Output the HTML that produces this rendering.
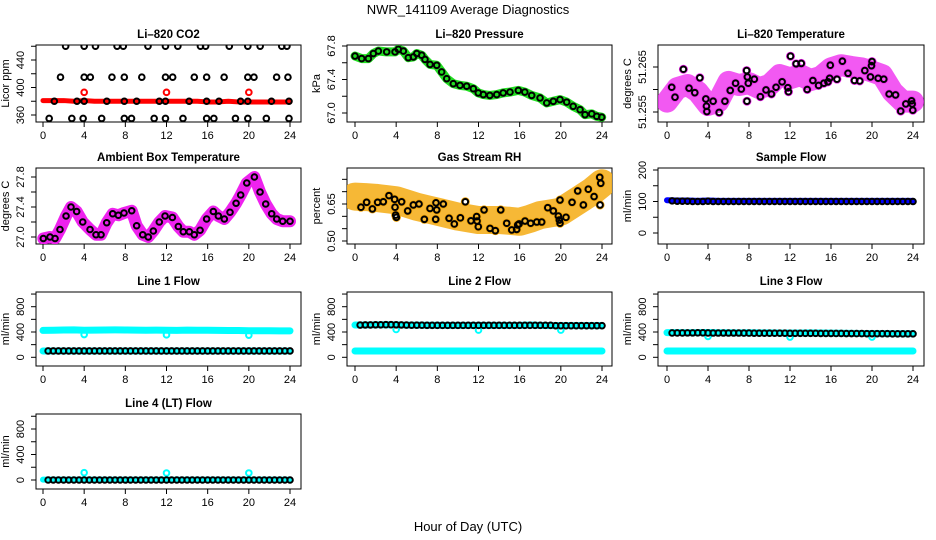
<!DOCTYPE html>
<html><head><meta charset="utf-8"><style>
body{margin:0;background:#fff;}
svg{display:block;font-family:"Liberation Sans",sans-serif;}
</style></head><body>
<svg id="chart" width="936" height="540" viewBox="0 0 936 540" xmlns="http://www.w3.org/2000/svg">
<text x="468" y="14" text-anchor="middle" font-size="13">NWR_141109  Average Diagnostics</text>
<text x="468" y="531" text-anchor="middle" font-size="13">Hour of Day (UTC)</text>
</svg>
<script>
// ---------- data ----------
const xTicks=[0,4,8,12,16,20,24];
const halfHours=[0,0.5,1,1.5,2,2.5,3,3.5,4,4.5,5,5.5,6,6.5,7,7.5,8,8.5,9,9.5,10,10.5,11,11.5,12,12.5,13,13.5,14,14.5,15,15.5,16,16.5,17,17.5,18,18.5,19,19.5,20,20.5,21,21.5,22,22.5,23,23.5,24];
const hours=[0,1,2,3,4,5,6,7,8,9,10,11,12,13,14,15,16,17,18,19,20,21,22,23,24];
// CO2
const co2Hi=[[2.2,460],[4.0,460],[5.1,460],[7.2,460],[7.8,460],[10.2,460],[11.9,460],[13.1,460],[15.3,460],[15.8,460],[18.1,460],[19.9,460],[21.1,460],[23.2,460],[23.7,460]];
const co2Mid=[[1.7,415],[4.0,415],[4.6,415],[6.7,415],[7.9,415],[9.6,415],[11.9,415],[12.6,415],[14.7,415],[15.9,415],[17.6,415],[19.9,415],[20.5,415],[22.7,415],[23.8,415]];
const co2Low=[[1.1,380],[3.3,380],[4.0,380],[6.2,380],[7.9,380],[9.1,380],[11.3,380],[11.9,380],[14.2,380],[15.9,380],[17.1,380],[19.2,380],[19.9,380],[22.2,380],[23.9,380]];
const co2Bot=[[0.6,355],[2.8,355],[3.9,355],[5.7,355],[7.9,355],[8.6,355],[10.8,355],[11.9,355],[13.6,355],[15.9,355],[16.6,355],[18.7,355],[19.9,355],[21.7,355],[23.9,355]];
const co2Red=[381,381,381,380,381,380,380,380,380,380,380,380,380,380,380,380,379,379,380,379,379,379,379,379,379];
const co2RedOut=[[4,393],[12,393],[20,393]];
// Pressure
const presH=[0.0,0.65,1.3,1.78,2.27,3.08,3.89,4.21,4.7,5.18,5.67,6.0,6.48,6.8,7.29,7.94,8.42,8.91,9.55,10.2,10.85,11.5,11.98,12.47,13.1,13.77,14.4,15.06,15.87,16.5,17.17,17.98,18.63,19.27,19.92,20.57,21.2,21.87,22.35,23.0,23.49,23.97];
const presV=[67.68,67.65,67.65,67.71,67.74,67.73,67.73,67.76,67.74,67.66,67.67,67.71,67.69,67.64,67.58,67.57,67.49,67.41,67.35,67.33,67.32,67.29,67.24,67.22,67.21,67.22,67.24,67.25,67.27,67.25,67.21,67.18,67.12,67.14,67.16,67.13,67.08,67.04,66.98,66.99,66.96,66.95];
// Li-820 temperature
const tempMean=[51.2573,51.2603,51.261,51.2595,51.2566,51.2573,51.2617,51.261,51.2614,51.2603,51.261,51.2632,51.2625,51.2632,51.2621,51.2628,51.2647,51.2654,51.265,51.2647,51.264,51.2632,51.2595,51.2573,51.2573];
const tempH=[0.46,0.78,1.6,2.15,2.71,3.2,3.79,3.85,3.89,4.5,5.09,5.65,6.17,6.69,7.25,7.77,7.84,7.8,7.93,8.52,9.11,9.66,10.19,10.64,11.23,11.79,11.85,12.05,12.6,13.1,13.68,14.23,14.79,15.31,15.7,15.87,15.93,16.58,17.11,17.66,18.29,18.8,19.3,19.85,19.95,20.0,20.6,21.15,21.67,22.3,22.8,23.3,23.86,23.92,23.98];
const tempV=[51.2605,51.2583,51.2645,51.2603,51.2593,51.2626,51.2579,51.2563,51.2551,51.2574,51.2549,51.2574,51.2598,51.2614,51.2601,51.2642,51.2628,51.2574,51.2614,51.2623,51.2584,51.2599,51.259,51.2605,51.2617,51.2604,51.2595,51.2674,51.2657,51.2658,51.26,51.262,51.2609,51.2614,51.2617,51.2625,51.2654,51.2623,51.2663,51.2636,51.262,51.2619,51.2642,51.2628,51.2653,51.2662,51.2625,51.2623,51.259,51.2588,51.2552,51.2568,51.2575,51.2568,51.2554];
// Ambient box temperature
const ambH=[0.03,0.68,1.17,1.65,2.24,2.72,3.27,3.86,4.57,5.15,5.64,6.19,6.77,7.32,7.87,8.62,9.1,9.69,10.23,10.72,11.3,11.86,12.57,13.15,13.63,14.22,14.7,15.26,15.9,16.55,17.04,17.62,18.17,18.76,19.21,19.8,20.54,21.09,21.64,22.22,22.71,23.29,24.0];
const ambV=[26.98,27.0,26.98,27.1,27.28,27.4,27.34,27.2,27.1,27.03,27.03,27.19,27.31,27.29,27.32,27.35,27.15,27.03,27.0,27.08,27.2,27.28,27.26,27.14,27.07,27.07,27.03,27.09,27.24,27.34,27.28,27.24,27.33,27.45,27.56,27.72,27.8,27.6,27.44,27.31,27.24,27.21,27.21];
// Gas stream RH
const rhMean=[0.68,0.678,0.675,0.67,0.665,0.652,0.639,0.629,0.619,0.609,0.599,0.592,0.585,0.585,0.585,0.582,0.578,0.59,0.605,0.612,0.619,0.646,0.673,0.7,0.734];
const rhH=[0.58,1.13,1.69,2.2,2.75,3.3,3.85,3.89,3.95,4.02,4.53,5.12,5.67,6.22,6.74,7.29,7.87,7.94,7.84,8.58,9.14,9.65,10.24,10.72,11.27,11.82,11.86,11.98,12.54,13.12,13.64,14.16,14.74,15.23,15.71,15.81,15.94,16.52,17.07,17.66,18.14,18.73,19.27,19.76,19.85,19.92,19.92,20.5,21.09,21.64,22.19,22.67,23.23,23.78,23.88,23.81];
const rhV=[0.637,0.657,0.63,0.657,0.659,0.684,0.669,0.637,0.605,0.596,0.659,0.622,0.646,0.65,0.588,0.632,0.655,0.626,0.588,0.65,0.592,0.569,0.594,0.659,0.582,0.599,0.581,0.558,0.626,0.551,0.542,0.626,0.572,0.545,0.547,0.565,0.569,0.581,0.572,0.577,0.577,0.635,0.622,0.601,0.585,0.666,0.572,0.596,0.657,0.703,0.646,0.71,0.68,0.758,0.734,0.646];
// Flows
const sampleBlue=[104,103,103,102,103,102,102,102,102,102,102,102,102,102,102,102,102,102,102,102,102,102,102,102,102];
const sampleBlack=[103,102,101,101,101,100,100,100,101,100,100,100,100,100,100,100,100,100,100,100,100,100,100,100,100,100,100,100,100,100,100,100,100,100,100,100,100,100,100,100,100,100,100,100,100,100,100,100,100];
const line1High=[425,428,432,434,428,430,432,433,432,430,428,429,427,426,430,428,427,425,424,423,420,420,419,418,418];
const line1Low=[100,100,100,100,100,100,100,100,100,100,100,100,100,100,100,100,100,100,100,100,100,100,100,100,100];
const line1Black=[100,100,100,100,100,100,100,100,100,100,100,100,100,100,100,100,100,100,100,100,100,100,100,100,100,100,100,100,100,100,100,100,100,100,100,100,100,100,100,100,100,100,100,100,100,100,100,100,100];
const line1Dips=[[4,360],[12,355],[20,350]];
const line2High=[510,510,512,515,512,508,508,506,506,505,505,505,505,505,505,505,505,510,505,500,500,500,500,500,500];
const line2Low=[100,100,100,100,100,100,100,100,100,100,100,100,100,100,100,100,100,100,100,100,100,100,100,100,100];
const line2Black=[510,510,512,512,514,514,515,515,514,512,510,508,508,507,506,506,505,505,505,505,505,505,505,505,505,505,505,505,505,505,505,505,505,505,505,505,505,505,505,500,500,500,500,500,500,500,500,500,500];
const line2Dips=[[4,440],[12,430],[20,430]];
const line3High=[390,390,388,390,392,388,388,386,388,386,386,385,384,384,386,384,382,380,378,376,376,374,374,372,372];
const line3Low=[100,100,100,100,100,100,100,100,100,100,100,100,100,100,100,100,100,100,100,100,100,100,100,100,100];
const line3Black=[385,385,385,385,386,386,387,387,385,384,384,384,384,384,384,383,383,382,382,382,382,381,381,381,380,380,380,379,379,379,378,378,378,377,377,376,376,375,375,374,374,374,373,373,372,372,372,371,371];
const line3Dips=[[4,330],[12,320],[20,320]];
const line4Cyan=[5,5,5,5,5,5,5,5,5,5,5,5,5,5,5,5,5,5,5,5,5,5,5,5,5];
const line4Black=[0,0,0,0,0,0,0,0,0,0,0,0,0,0,0,0,0,0,0,0,0,0,0,0,0,0,0,0,0,0,0,0,0,0,0,0,0,0,0,0,0,0,0,0,0,0,0,0,0];
const line4Dips=[[4,115],[12,110],[20,110]];

// ---------- layout ----------
const NS='http://www.w3.org/2000/svg';
const svg=document.getElementById('chart');
const cols=[{l:36,r:301,h0:43,h24:290},{l:347,r:612,h0:355,h24:602},{l:658,r:924,h0:667,h24:913}];
const rows=[{t:45,b:122},{t:168,b:244},{t:292,b:366},{t:414,b:489}];
function mk(tag,attrs,parent){const e=document.createElementNS(NS,tag);for(const k in attrs)e.setAttribute(k,attrs[k]);(parent||svg).appendChild(e);return e;}
function panel(name,title,ci,ri,ylab,yTicks,yLabels,v0,p0,v1,p1){
  const c=cols[ci],r=rows[ri];
  const g=mk('g',{});
  
  
  const sx=h=>c.h0+(c.h24-c.h0)*h/24;
  const sy=v=>p0+(p1-p0)*(v-v0)/(v1-v0);
  const t=mk('text',{x:(c.l+c.r)/2,y:r.t-7,'text-anchor':'middle','font-size':'11.5','font-weight':'bold'},g);
  t.textContent=title;
  
  
  const ax=mk('g',{stroke:'#000','stroke-width':1,fill:'none'},g);
  
  
  mk('rect',{x:c.l,y:r.t,width:c.r-c.l,height:r.b-r.t},ax);
  xTicks.forEach(h=>{const x=sx(h);mk('line',{x1:x,x2:x,y1:r.b,y2:r.b+5},ax);
    const tl=mk('text',{x:x,y:r.b+17,'text-anchor':'middle','font-size':'11',fill:'#000',stroke:'none'},g);tl.textContent=h;
    
    });
  yTicks.forEach((v,i)=>{const y=sy(v);mk('line',{x1:c.l,x2:c.l-5,y1:y,y2:y},ax);
    if(yLabels[i]!==''){const lx=c.l-12;const tl=mk('text',{x:lx,y:y,'text-anchor':'middle','font-size':'11',transform:`rotate(-90 ${lx} ${y})`},g);tl.textContent=yLabels[i];
    
    }});
  const tx=c.l-27;
  const yt=mk('text',{x:tx,y:(r.t+r.b)/2,'text-anchor':'middle','font-size':'11',transform:`rotate(-90 ${tx} ${(r.t+r.b)/2})`},g);
  yt.textContent=ylab;
  
  
  const clip='clip-'+name;
  const cp=mk('clipPath',{id:clip},g);mk('rect',{x:c.l,y:r.t,width:c.r-c.l,height:r.b-r.t},cp);
  const dg=mk('g',{'clip-path':`url(#${clip})`},g);
  return {g:dg,sx,sy};
}
function band(P,xs,vs,color,w,name,op){
  const pts=xs.map((h,i)=>P.sx(h)+','+P.sy(vs[i])).join(' ');
  const e=mk('polyline',{points:pts,fill:'none',stroke:color,'stroke-width':w,'stroke-linejoin':'round','stroke-linecap':'round','stroke-opacity':op||1},P.g);
  
  
}
function circles(P,xs,vs,color,name,r,sw){
  xs.forEach((h,i)=>{const e=mk('circle',{cx:P.sx(h),cy:P.sy(vs[i]),r:r||2.8,fill:'none',stroke:color,'stroke-width':sw||2},P.g);
    
    });
}
function pairs(P,arr,color,name){circles(P,arr.map(a=>a[0]),arr.map(a=>a[1]),color,name);}

// CO2
let P=panel('co2','Li\u2013820 CO2',0,0,'Licor ppm',[360,380,400,420,440,460],['360','','400','','440',''],360,115,440,60);
band(P,hours,co2Red,'#ff0000',5,'co2-red-band');
pairs(P,co2RedOut,'#ff0000','co2-red-point');
pairs(P,co2Hi,'#000','co2-point');pairs(P,co2Mid,'#000','co2-point');pairs(P,co2Low,'#000','co2-point');pairs(P,co2Bot,'#000','co2-point');
// Pressure
P=panel('pressure','Li\u2013820 Pressure',1,0,'kPa',[67.0,67.2,67.4,67.6,67.8],['67.0','','67.4','','67.8'],67.0,113,67.8,46);
band(P,presH,presV,'#22dd22',9,'pressure-green-band');
circles(P,presH,presV,'#000','pressure-point');
// Temperature
P=panel('li820-temp','Li\u2013820 Temperature',2,0,'degrees C',[51.255,51.26,51.265],['51.255','','51.265'],51.255,112,51.265,67);
band(P,hours,tempMean,'#ee22ee',22,'temp-magenta-cloud',0.75);
circles(P,tempH,tempV,'#ee22ee','temp-magenta-point',3.5);
circles(P,tempH,tempV,'#000','temp-point');
// Ambient
P=panel('ambient','Ambient Box Temperature',0,1,'degrees C',[27.0,27.2,27.4,27.6,27.8],['27.0','','27.4','','27.8'],27.0,237,27.8,177);
band(P,ambH,ambV,'#ee22ee',12,'ambient-magenta-band');
circles(P,ambH,ambV,'#000','ambient-point');
// RH
P=panel('rh','Gas Stream RH',1,1,'percent',[0.50,0.55,0.60,0.65,0.70,0.75],['0.50','','','0.65','',''],0.50,241,0.65,204);
band(P,hours,rhMean,'#f5b020',28,'rh-orange-cloud',0.9);
circles(P,rhH,rhV,'#f0a000','rh-orange-point',3.5);
circles(P,rhH,rhV,'#000','rh-point');
// Sample flow
P=panel('sample-flow','Sample Flow',2,1,'ml/min',[0,50,100,150,200],['0','','100','','200'],0,233,200,170);
band(P,hours,sampleBlue,'#0000ff',6,'sample-blue-band');
circles(P,halfHours.slice(1),sampleBlack.slice(1),'#000','sample-point');
const flowTicks=[0,200,400,600,800,1000],flowLabels=['0','','400','','800',''];
// Line 1
P=panel('line1','Line 1 Flow',0,2,'ml/min',flowTicks,flowLabels,0,357.3,800,306.7);
band(P,hours,line1High,'#00ffff',7,'line1-cyan-high');
band(P,hours,line1Low,'#00ffff',7,'line1-cyan-low');
pairs(P,line1Dips,'#00ffff','line1-cyan-point');
circles(P,halfHours.slice(1),line1Black.slice(1),'#000','line1-point');
// Line 2
P=panel('line2','Line 2 Flow',1,2,'ml/min',flowTicks,flowLabels,0,357.3,800,306.7);
band(P,hours,line2High,'#00ffff',7,'line2-cyan-high');
band(P,hours,line2Low,'#00ffff',7,'line2-cyan-low');
pairs(P,line2Dips,'#00ffff','line2-cyan-point');
circles(P,halfHours.slice(1),line2Black.slice(1),'#000','line2-point');
// Line 3
P=panel('line3','Line 3 Flow',2,2,'ml/min',flowTicks,flowLabels,0,357.3,800,306.7);
band(P,hours,line3High,'#00ffff',7,'line3-cyan-high');
band(P,hours,line3Low,'#00ffff',7,'line3-cyan-low');
pairs(P,line3Dips,'#00ffff','line3-cyan-point');
circles(P,halfHours.slice(1),line3Black.slice(1),'#000','line3-point');
// Line 4
P=panel('line4','Line 4 (LT) Flow',0,3,'ml/min',flowTicks,flowLabels,0,480,800,429);
band(P,hours,line4Cyan,'#00ffff',6,'line4-cyan-band');
pairs(P,line4Dips,'#00ffff','line4-cyan-point');
circles(P,halfHours.slice(1),line4Black.slice(1),'#000','line4-point');
</script>
</body></html>
